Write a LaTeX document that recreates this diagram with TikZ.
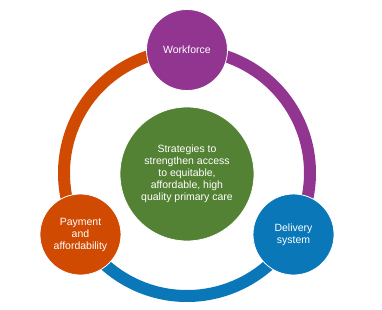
\documentclass[tikz,border=0pt]{standalone}
\usepackage{fontspec}
\setmainfont{Liberation Sans}
\usetikzlibrary{backgrounds}

\definecolor{wfpurple}{HTML}{913590}
\definecolor{dsblue}{HTML}{0A78B8}
\definecolor{payorange}{HTML}{D04A02}
\definecolor{coregreen}{HTML}{548235}

\tikzset{
	pillar/.style={circle, draw=white, line width=0.8pt, minimum size=81pt, inner sep=0pt,
		text=white, align=center, font=\fontsize{10.5}{12}\selectfont},
	ringarc/.style={line width=12pt}
}

\begin{document}
\begin{tikzpicture}[x=1pt, y=1pt]
		\useasboundingbox (-187,-136) rectangle (195,173);
		
		% Core strategy
		\node[pillar, fill=coregreen, minimum size=134pt] (core) at (0,-1)
			{Strategies to\\strengthen access\\to equitable,\\affordable, high\\quality primary care};
		
		% The three pillars on the ring
		\node[pillar, fill=wfpurple] (wf) at (90:123) {Workforce};
		\node[pillar, fill=dsblue] (ds) at (-30:123) {Delivery\\system};
		\node[pillar, fill=payorange] (pay) at (210:123) {Payment\\and\\affordability};
		
		% Ring segments behind the pillars
		\begin{scope}[on background layer]
			\draw[ringarc, wfpurple] (wf.center) arc[start angle=90, end angle=-30, radius=123];
			\draw[ringarc, dsblue] (ds.center) arc[start angle=-30, end angle=-150, radius=123];
			\draw[ringarc, payorange] (pay.center) arc[start angle=210, end angle=90, radius=123];
		\end{scope}
	\end{tikzpicture}
\end{document}
